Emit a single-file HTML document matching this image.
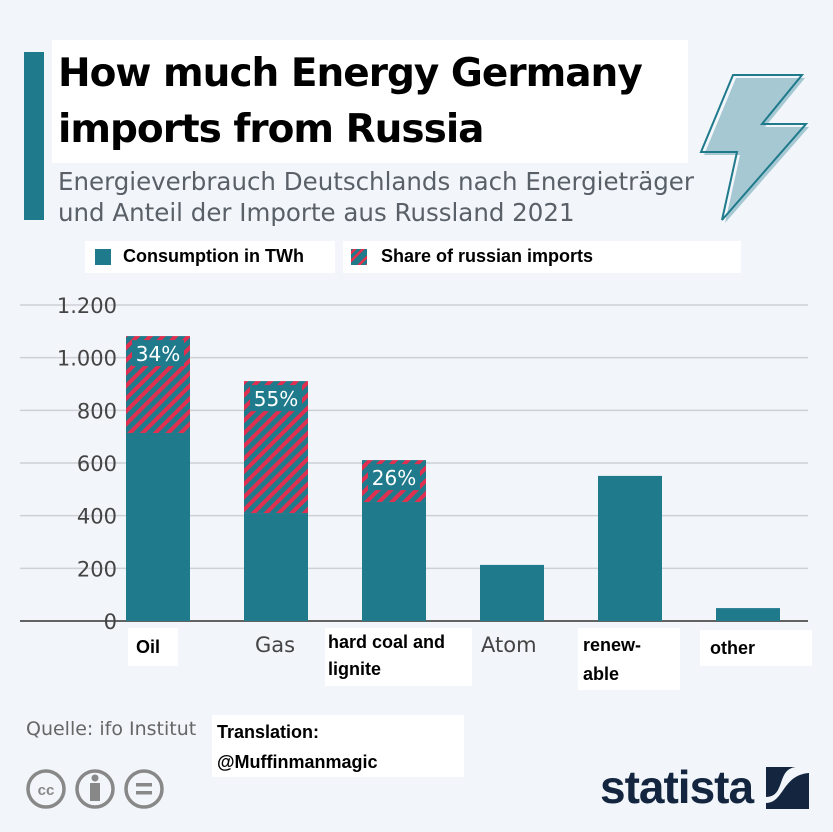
<!DOCTYPE html>
<html><head><meta charset="utf-8"><style>
body{margin:0;width:833px;height:832px;background:#f2f6fa;position:relative;overflow:hidden;font-family:"Liberation Sans","DejaVu Sans",sans-serif}
.abs{position:absolute}
.wb{background:#fff}
</style></head><body>
<div class="abs" style="left:24px;top:52px;width:20px;height:168px;background:#1f7a8c"></div>
<div class="abs wb" style="left:52px;top:40px;width:636px;height:123px;font-weight:bold;font-size:43px;line-height:56px;padding:6px 0 0 6px;box-sizing:border-box;color:#000;font-family:'DejaVu Sans',sans-serif;letter-spacing:-1px;font-size:39px">How much Energy Germany<br>imports from Russia</div>
<div class="abs" style="left:58px;top:166px;line-height:31px;color:#5a6068;font-family:'DejaVu Sans',sans-serif;font-size:24.5px">Energieverbrauch Deutschlands nach Energieträger<br>und Anteil der Importe aus Russland 2021</div>
<svg class="abs" style="left:695px;top:65px" width="138" height="165"><polygon points="41,13 110,13 70,62 114,62 30,158 45,90 9,90" fill="#a6c8d2"/><polygon points="38,10 107,10 67,59 111,59 27,155 42,87 6,87" fill="none" stroke="#1f7a8c" stroke-width="2"/></svg>
<div class="abs wb" style="left:85px;top:241px;width:250px;height:32px"><span style="position:absolute;left:10px;top:8px;width:16px;height:16px;background:#1f7a8c"></span><span style="position:absolute;left:38px;top:5px;font-weight:bold;font-size:18px">Consumption in TWh</span></div>
<div class="abs wb" style="left:343px;top:241px;width:398px;height:32px"><svg style="position:absolute;left:8px;top:8px" width="16" height="16"><rect width="16" height="16" fill="#1f7a8c"/><path d="M-4,8 L8,-4 M-4,16 L16,-4 M4,20 L20,4 M12,20 L20,12" stroke="#e8304a" stroke-width="2.5"/></svg><span style="position:absolute;left:38px;top:5px;font-weight:bold;font-size:18px">Share of russian imports</span></div>
<svg id="chart" class="abs" style="left:0;top:0" width="833" height="700">
<defs><pattern id="hatch" patternUnits="userSpaceOnUse" width="9" height="9" patternTransform="rotate(45)"><rect width="9" height="9" fill="#1f7a8c"/><rect width="4" height="9" fill="#e02f4f"/></pattern></defs>
</svg>
<div class="abs wb" style="left:128px;top:628px;width:50px;height:38px;font-weight:bold;font-size:18px;padding:9px 0 0 8px;box-sizing:border-box">Oil</div>
<div class="abs" style="left:255px;top:633px;font-size:21px;color:#444;font-family:'DejaVu Sans',sans-serif">Gas</div>
<div class="abs wb" style="left:325px;top:628px;width:147px;height:58px;font-weight:bold;font-size:18px;line-height:27px;padding:1px 0 0 3px;box-sizing:border-box">hard coal and<br>lignite</div>
<div class="abs" style="left:481px;top:633px;font-size:21px;color:#444;font-family:'DejaVu Sans',sans-serif">Atom</div>
<div class="abs wb" style="left:578px;top:628px;width:102px;height:62px;font-weight:bold;font-size:18px;line-height:29px;padding:3px 0 0 5px;box-sizing:border-box">renew-<br>able</div>
<div class="abs wb" style="left:700px;top:630px;width:112px;height:36px;font-weight:bold;font-size:18px;padding:8px 0 0 10px;box-sizing:border-box">other</div>
<div class="abs" style="left:26px;top:718px;font-size:19px;color:#666;font-family:'DejaVu Sans',sans-serif">Quelle: ifo Institut</div>
<div class="abs wb" style="left:212px;top:715px;width:252px;height:62px;font-weight:bold;font-size:18px;line-height:30px;padding:2px 0 0 5px;box-sizing:border-box">Translation:<br>@Muffinmanmagic</div>
<svg class="abs" style="left:24px;top:766px" width="150" height="46"><g fill="none" stroke="#888" stroke-width="3.5"><circle cx="22" cy="23" r="18"/><circle cx="71" cy="23" r="18"/><circle cx="120" cy="23" r="18"/></g><text x="22" y="29" font-size="15" font-weight="bold" fill="#888" text-anchor="middle" font-family="Liberation Sans">cc</text><circle cx="71" cy="12" r="3.5" fill="#888"/><rect x="66" y="17" width="10" height="18" fill="#888"/><rect x="112" y="17" width="16" height="3.5" fill="#888"/><rect x="112" y="25" width="16" height="3.5" fill="#888"/></svg>
<div class="abs" style="left:600px;top:760px;font-weight:bold;font-size:46px;color:#14263f;letter-spacing:-1px;font-family:'Liberation Sans Narrow','Liberation Sans',sans-serif">statista</div>
<svg class="abs" style="left:766px;top:767px" width="43" height="42"><rect width="43" height="42" fill="#14263f"/><path d="M0,36 C18,36 16,8 43,6 L43,0 L30,0 C10,2 20,30 0,30Z" fill="#f2f6fa"/></svg>
<script>
const categories=["Oil","Gas","hard coal and lignite","Atom","renewable","other"];
const totalTWh=[1082,911,611,213,551,49];
const nonRussianTWh=[714,410,452,213,551,49];
const shareLabels=["34%","55%","26%","","",""];
const yTicks=[0,200,400,600,800,1000,1200];
const yTickLabels=["0","200","400","600","800","1.000","1.200"];
const svg=document.getElementById('chart');
const NS='http://www.w3.org/2000/svg';
const y0=621,yTop=305,yMax=1200;
const y=v=>y0-(v/yMax)*(y0-yTop);
const x=i=>126+i*118;const bw=64;
function mk(t,a){const e=document.createElementNS(NS,t);for(const k in a)e.setAttribute(k,a[k]);svg.appendChild(e);return e;}
yTicks.forEach((t,i)=>{
 const l=mk('line',{x1:20,x2:808,y1:y(t),y2:y(t),stroke:i==0?'#333':'#cdd1d5','stroke-width':1.5});
 
 
 const tx=mk('text',{x:117,y:y(t)+8,'text-anchor':'end','font-size':21,fill:'#444','font-family':'DejaVu Sans, sans-serif'});
 tx.textContent=yTickLabels[i];
 
 
});
categories.forEach((c,i)=>{
 const s=mk('rect',{x:x(i),y:y(nonRussianTWh[i]),width:bw,height:y0-y(nonRussianTWh[i]),fill:'#1f7a8c'});
 
 
 if(totalTWh[i]>nonRussianTWh[i]){
  const h=mk('rect',{x:x(i),y:y(totalTWh[i]),width:bw,height:y(nonRussianTWh[i])-y(totalTWh[i]),fill:'url(#hatch)'});
  
  
 }
 if(shareLabels[i]){
  const b=mk('rect',{x:x(i)+6,y:y(totalTWh[i])+4,width:bw-12,height:26,fill:'#1f7a8c'});
  
  
  const t=mk('text',{x:x(i)+bw/2,y:y(totalTWh[i])+25,'text-anchor':'middle','font-size':20,fill:'#fff','font-family':'DejaVu Sans, sans-serif'});
  t.textContent=shareLabels[i];
  
  
 }
});
</script>
</body></html>
